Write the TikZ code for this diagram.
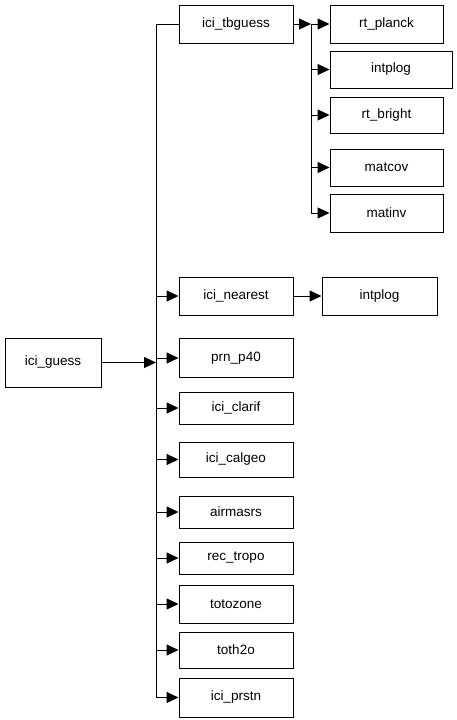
\documentclass[tikz,border=0pt]{standalone}
\usepackage{fontspec}
\setmainfont{Liberation Sans}
\usetikzlibrary{arrows.meta}

\tikzset{
  box/.style={draw, line width=1pt, fill=white, inner sep=0pt,
    font=\fontsize{13.5}{15}\selectfont, minimum width=#1},
  box/.default=114pt,
  arr/.style={-{Triangle[length=12pt,width=11pt]}, line width=1pt},
  bus/.style={line width=1pt}
}

\begin{document}
\begin{tikzpicture}[x=1pt, y=-1pt]

  \newcommand\Cx{236};
  \newcommand\Rx{386.5};

  \useasboundingbox (0,0) rectangle (456,720);

  % main bus and inner bus
  \coordinate (mbus) at (156,24);
  \coordinate (ibus) at (311,24);

  \node[box=96pt, minimum height=49pt] (guess) at (53,362.5) {ici\_guess};

  \node[box, minimum height=38pt] (tbguess)  at (\Cx,24)    {ici\_tbguess};
  \node[box, minimum height=38pt] (nearest)  at (\Cx,296)   {ici\_nearest};
  \node[box, minimum height=39pt] (p40)      at (\Cx,358)   {prn\_p40};
  \node[box, minimum height=32pt] (clarif)   at (\Cx,408)   {ici\_clarif};
  \node[box, minimum height=35pt] (calgeo)   at (\Cx,459.5) {ici\_calgeo};
  \node[box, minimum height=32pt] (airmasrs) at (\Cx,512)   {airmasrs};
  \node[box, minimum height=32pt] (rectropo) at (\Cx,558)   {rec\_tropo};
  \node[box, minimum height=38pt] (totozone) at (\Cx,604)   {totozone};
  \node[box, minimum height=36pt] (toth)     at (\Cx,650)   {toth2o};
  \node[box, minimum height=39pt] (prstn)    at (\Cx,697.5) {ici\_prstn};

  \node[box=113pt, minimum height=38pt] (planck)  at (\Rx,24)    {rt\_planck};
  \node[box=122pt, minimum height=37pt] (intplog) at (391,69.5)  {intplog};
  \node[box=113pt, minimum height=36pt] (bright)  at (\Rx,115)   {rt\_bright};
  \node[box=113pt, minimum height=37pt] (matcov)  at (\Rx,167.5) {matcov};
  \node[box=113pt, minimum height=38pt] (matinv)  at (\Rx,213)   {matinv};

  \node[box=115pt, minimum height=38pt] (intplogb) at (379.5,296) {intplog};

  % ici_guess calls
  \draw[bus] (mbus) -- (prstn.west -| mbus);
  \draw[bus] (mbus) -- (tbguess.west);
  \draw[arr] (guess.east) -- (guess.east -| mbus);
  \foreach \n in {nearest,p40,clarif,calgeo,airmasrs,rectropo,totozone,toth,prstn}
    \draw[arr] (\n.west -| mbus) -- (\n.west);

  % ici_tbguess calls
  \draw[bus] (ibus) -- (matinv.west -| ibus);
  \draw[arr] (tbguess.east) -- (ibus);
  \foreach \n in {planck,intplog,bright,matcov,matinv}
    \draw[arr] (\n.west -| ibus) -- (\n.west);

  % ici_nearest calls
  \draw[arr] (nearest.east) -- (intplogb.west);

\end{tikzpicture}
\end{document}
